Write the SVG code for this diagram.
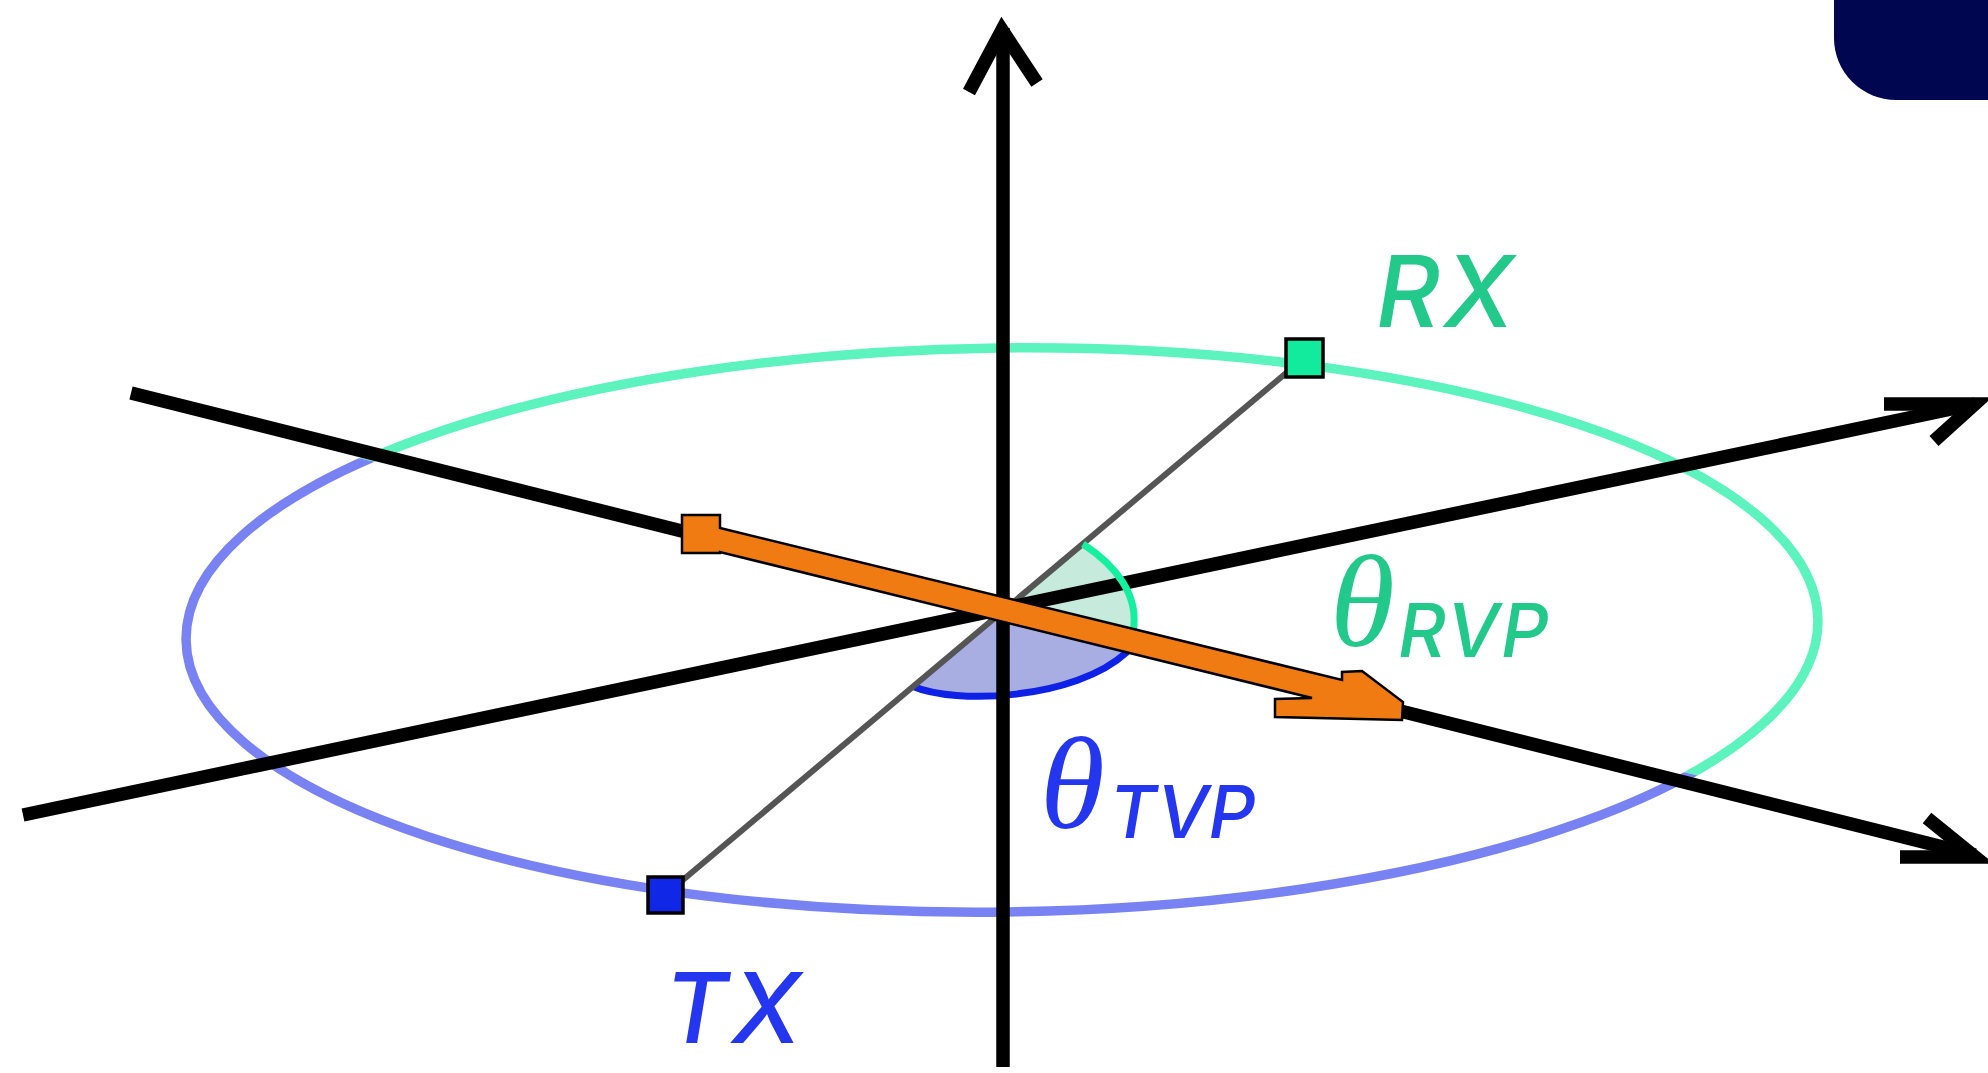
<svg xmlns="http://www.w3.org/2000/svg" width="1988" height="1073" viewBox="0 0 1988 1073">
<style>
.axis{fill:none;stroke:#000;stroke-width:13.5;stroke-linecap:butt;stroke-linejoin:miter;stroke-miterlimit:10}
.lbl{font-family:Inter,"Liberation Sans",sans-serif;font-style:italic;font-weight:500}
.theta{font-family:"Liberation Serif","DejaVu Serif",serif;font-style:italic;font-weight:400}
.green{fill:#22C98A}
.blue{fill:#2437EE}
.sq{stroke:#000;stroke-width:3.5}
</style>
<defs>
<clipPath id="upper"><polygon points="0,0 1988,0 1988,857 0,360"/></clipPath>
<clipPath id="lower"><polygon points="0,360 1988,857 1988,1073 0,1073"/></clipPath>
</defs>
<rect width="1988" height="1073" fill="#fff"/>
<rect x="1834" y="-80" width="220" height="180" rx="62" fill="#000650"/>
<g id="orbit">
<ellipse cx="1002" cy="630" rx="816" ry="282" transform="rotate(-0.7 1002 630)" fill="none" stroke="#5CF3BF" stroke-width="9.5" clip-path="url(#upper)"/>
<ellipse cx="1002" cy="630" rx="816" ry="282" transform="rotate(-0.7 1002 630)" fill="none" stroke="#7982F2" stroke-width="9.5" clip-path="url(#lower)"/>
</g>
<g id="angle-tvp">
<path d="M1003,608 L912,686 C955,705 1075,700 1127,652 Z" fill="#A9AEE2"/>
<path d="M912,686 C955,705 1075,700 1127,652" fill="none" stroke="#0D22E6" stroke-width="7"/>
</g>
<g id="angle-rvp">
<path d="M1003,608 L1083,544 C1115,565 1140,595 1133,632 Z" fill="#C6EADC"/>
</g>
<g id="connectors">
<line x1="1304" y1="358" x2="665" y2="895" stroke="#555" stroke-width="6"/>
<line class="axis" x1="1003" y1="1067" x2="1003" y2="28"/>
<polyline class="axis" points="969,92 1002,30 1037,83"/>
<line class="axis" x1="131" y1="393" x2="1975" y2="855"/>
<polyline class="axis" points="1927,818 1975,857 1900,857"/>
<line class="axis" x1="23" y1="815" x2="1975" y2="404"/>
<polyline class="axis" points="1884,404 1975,404 1934,441"/>
<path d="M1083,544 C1115,565 1140,595 1133,632" fill="none" stroke="#14F0A0" stroke-width="7"/>
</g>
<g id="vector">
<polygon points="682,515 720,515 720,528 1342,680 1342,672 1362,671 1403,702 1402,720 1275,717 1275,699 1312,698 720,552 720,553 682,553" fill="#F07B12" stroke="#000" stroke-width="2.5" stroke-linejoin="miter"/>
</g>
<g id="rx">
<rect class="sq" x="1286" y="339" width="37" height="38" fill="#12EA9E"/>
<text class="lbl green" x="1376" y="327" font-size="99" letter-spacing="4">RX</text>
</g>
<g id="tx">
<rect class="sq" x="648" y="877" width="35" height="36" fill="#1027E8"/>
<text class="lbl blue" x="664" y="1043" font-size="98" letter-spacing="4">TX</text>
</g>
<g id="label-rvp">
<text class="green" x="1330" y="646"><tspan class="theta" font-size="132">θ</tspan><tspan class="lbl" x="1398" y="657" font-size="74" letter-spacing="2">RVP</tspan></text>
</g>
<g id="label-tvp">
<text class="blue" x="1040" y="828"><tspan class="theta" font-size="132">θ</tspan><tspan class="lbl" x="1109" y="838" font-size="73">TVP</tspan></text>
</g>
</svg>
